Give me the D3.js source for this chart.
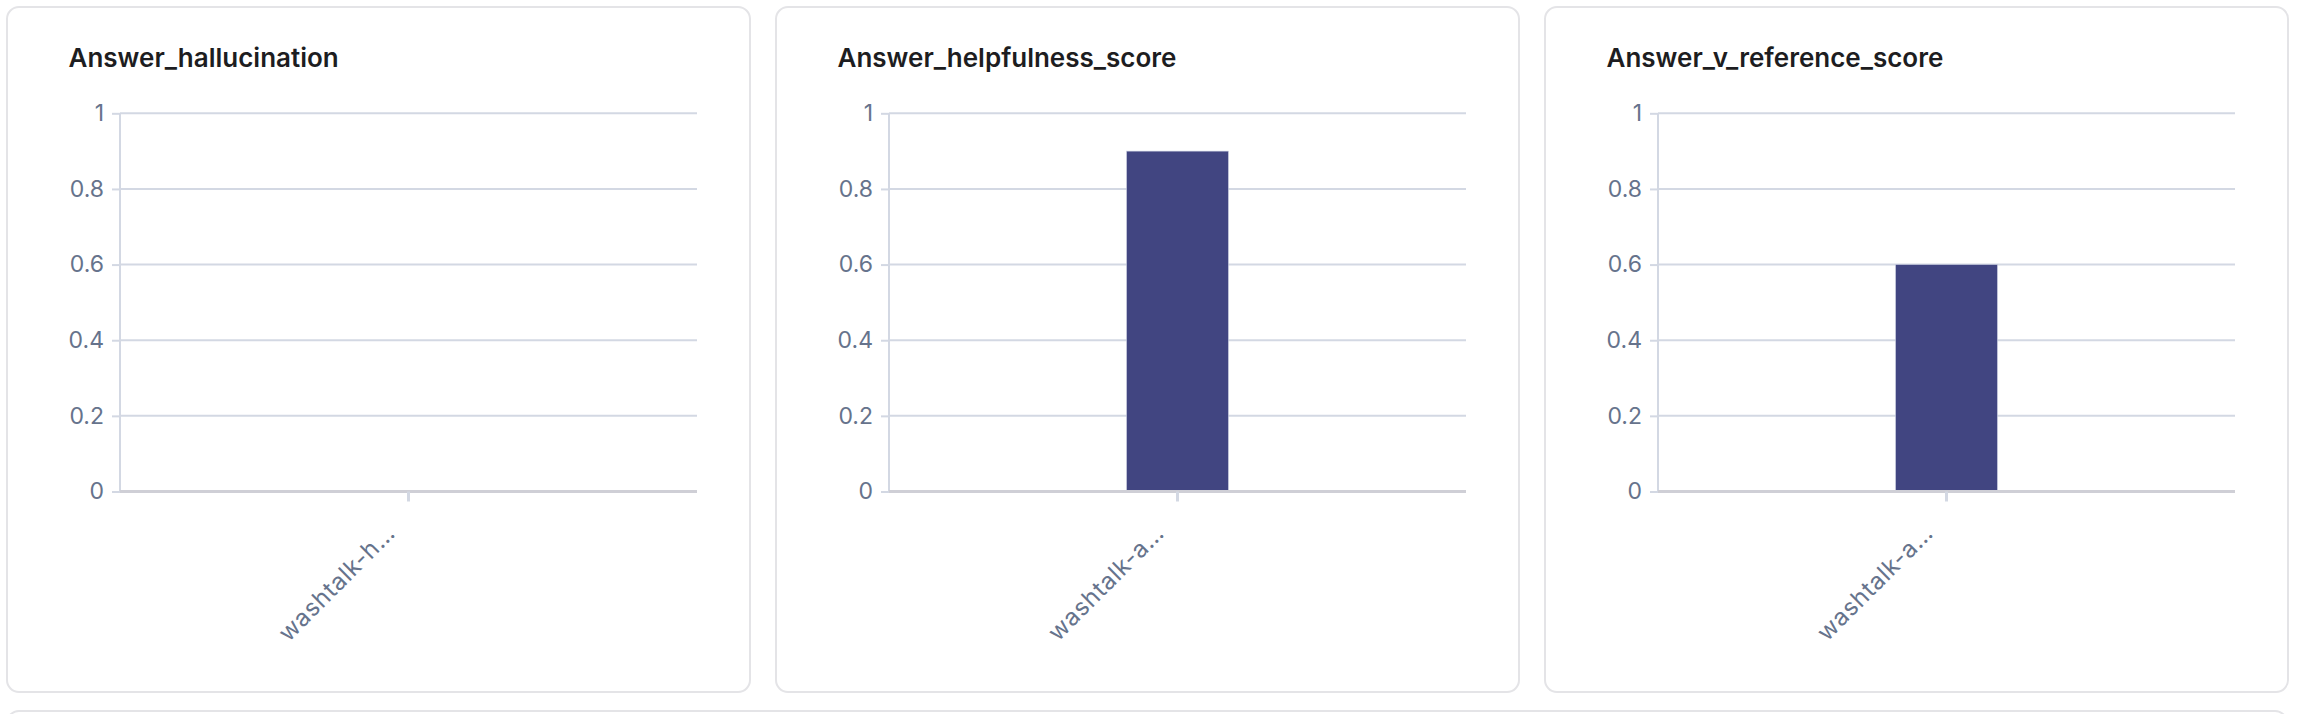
<!DOCTYPE html>
<html>
<head>
<meta charset="utf-8">
<script src="https://cdn.jsdelivr.net/npm/d3@7"></script>
<style>
  html, body { margin: 0; padding: 0; background: #ffffff; }
  svg { display: block; font-family: Inter, "Noto Sans", sans-serif; }
</style>
</head>
<body>
<svg id="chart" width="2300" height="714"></svg>
<script>
const titles = ["Answer_hallucination", "Answer_helpfulness_score", "Answer_v_reference_score"];
const categories = [["washtalk-h…"], ["washtalk-a…"], ["washtalk-a…"]];
const values = [[0], [0.9], [0.6]];
const yTicks = [0, 0.2, 0.4, 0.6, 0.8, 1];

const svg = d3.select("#chart");

// bottom (cut-off) card
svg.append("rect")
  .attr("x", 7).attr("y", 711).attr("width", 2280).attr("height", 60)
  .attr("rx", 12).attr("fill", "#fff").attr("stroke", "#e4e4e7").attr("stroke-width", 2);

const cardW = 743, cardH = 685, cardY = 7, cardStep = 769;

titles.forEach((title, i) => {
  const cx = 7 + i * cardStep;
  const g = svg.append("g").attr("transform", `translate(${cx},${cardY})`);

  g.append("rect")
    .attr("x", 0).attr("y", 0).attr("width", cardW).attr("height", cardH)
    .attr("rx", 12).attr("fill", "#fff").attr("stroke", "#e4e4e7").attr("stroke-width", 2);

  g.append("text")
    .attr("x", 61.5).attr("y", 60)
    .attr("font-size", 26).attr("font-weight", 600).attr("fill", "#1d1d21")
    .text(title);

  const left = 113, right = 690, top = 106.3, bottom = 484.5;
  const x = d3.scaleBand().domain(categories[i]).range([left, right]).padding(0.7);
  const y = d3.scaleLinear().domain([0, 1]).range([bottom, top]);

  // grid
  g.append("g").selectAll("line").data(yTicks.filter(d => d > 0)).join("line")
    .attr("x1", left).attr("x2", right)
    .attr("y1", d => y(d)).attr("y2", d => y(d))
    .attr("stroke", "#d3d8e3").attr("stroke-width", 2);

  // y axis
  const ya = g.append("g").attr("transform", `translate(${left},0)`)
    .call(d3.axisLeft(y).tickValues(yTicks).tickSize(8).tickPadding(8).tickFormat(d3.format("~g")));
  ya.select(".domain").attr("stroke", "#d3d8e3").attr("stroke-width", 2).attr("d", `M0,${top}V${bottom}`);
  ya.selectAll(".tick line").attr("stroke", "#d3d8e3").attr("stroke-width", 2);
  ya.selectAll(".tick text").attr("font-size", 23).attr("fill", "#66738c")
    .attr("font-family", "Inter, 'Noto Sans', sans-serif");

  // bars
  g.append("g").selectAll("rect").data(categories[i].map((c, j) => ({c, v: values[i][j]}))).join("rect")
    .attr("x", d => x(d.c)).attr("width", x.bandwidth())
    .attr("y", d => y(d.v)).attr("height", d => y(0) - y(d.v))
    .attr("fill", "#414581").attr("stroke", "#c9cde0").attr("stroke-width", 0.6);

  // x axis
  const xa = g.append("g").attr("transform", `translate(0,${bottom})`)
    .call(d3.axisBottom(x).tickSize(10).tickPadding(0));
  xa.select(".domain").attr("stroke", "#cfcfd6").attr("stroke-width", 3).attr("d", `M${left},0H${right}`);
  xa.selectAll(".tick line").attr("stroke", "#d3d8e3").attr("stroke-width", 3);
  xa.selectAll(".tick text")
    .attr("font-size", 24).attr("fill", "#66738c").attr("letter-spacing", 0.7)
    .attr("font-family", "Inter, 'Noto Sans', sans-serif")
    .attr("text-anchor", "end").attr("dy", 0)
    .attr("transform", "translate(-19,36) rotate(-45)");
});
</script>
</body>
</html>
